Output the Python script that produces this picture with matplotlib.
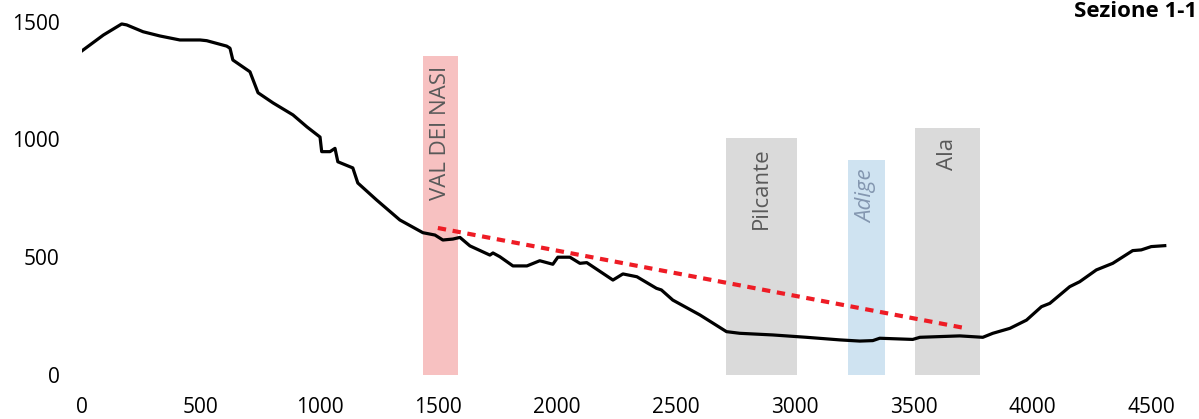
import matplotlib.pyplot as plt

plt.rcParams['font.family'] = ['Open Sans', 'DejaVu Sans']

# profile of section (distance m, elevation m)
dist = [0, 90, 167, 188, 257, 328, 412, 497, 525, 609, 623, 635, 707, 720,
        741, 804, 888, 947, 1002, 1009, 1044, 1065, 1077, 1140, 1161, 1240,
        1338, 1435, 1486, 1519, 1561, 1591, 1633, 1717, 1730, 1759, 1814,
        1873, 1927, 1982, 2003, 2054, 2096, 2125, 2235, 2277, 2336, 2418,
        2439, 2487, 2601, 2713, 2769, 2908, 3050, 3190, 3274, 3329, 3358,
        3497, 3527, 3695, 3792, 3834, 3906, 3976, 4039, 4074, 4158, 4200,
        4270, 4339, 4423, 4459, 4501, 4558]
elev = [1376, 1443, 1490, 1486, 1457, 1439, 1422, 1422, 1419, 1396, 1387,
        1337, 1287, 1253, 1198, 1155, 1104, 1053, 1010, 948, 948, 962, 905,
        879, 815, 743, 658, 604, 594, 573, 577, 584, 548, 509, 518, 502, 463,
        463, 485, 470, 500, 500, 474, 477, 403, 429, 417, 368, 361, 318, 255,
        184, 177, 170, 160, 149, 144, 146, 156, 151, 160, 166, 160, 177, 198,
        233, 290, 304, 375, 396, 446, 474, 528, 531, 545, 549]

# highlighted zones
zone_names = ['VAL DEI NASI', 'Pilcante', 'Adige', 'Ala']
zone_start = [1434, 2713, 3224, 3506]
zone_end = [1581, 3010, 3380, 3779]
zone_top = [1354, 1006, 913, 1048]
zone_colors = ['#f7c1c1', '#dadada', '#cfe3f1', '#dadada']
zone_text_colors = ['#595959', '#595959', '#8497b0', '#595959']
zone_italic = [False, False, True, False]

# dashed trend line
trend_x = [1498, 3723]
trend_y = [624, 198]

xticks = [0, 500, 1000, 1500, 2000, 2500, 3000, 3500, 4000, 4500]
yticks = [0, 500, 1000, 1500]

fig = plt.figure(figsize=(11.99, 4.19), dpi=100)
ax = fig.add_axes([82 / 1199, 44 / 419, 1116.5 / 1199, 1590 * 0.2356 / 419])

for name, x0, x1, top, col, tcol, it in zip(zone_names, zone_start, zone_end,
                                             zone_top, zone_colors,
                                             zone_text_colors, zone_italic):
    ax.fill_between([x0, x1], 0, top, color=col, lw=0, zorder=1)
    ax.annotate(name, xy=((x0 + x1) / 2, top), xytext=(0, -7),
                textcoords='offset points', rotation=90, ha='center',
                va='top', fontsize=16, color=tcol,
                style='italic' if it else 'normal', zorder=2)

ax.plot(dist, elev, color='black', lw=2.3, zorder=3, solid_joinstyle='round')
ax.plot(trend_x, trend_y, color='#ee1c25', lw=3, linestyle=(0, (2, 1.6)),
        zorder=4)

ax.set_xlim(0, 4700)
ax.set_ylim(0, 1590)
ax.set_xticks(xticks)
ax.set_yticks(yticks)
ax.tick_params(length=0, labelsize=15, colors='#000000')
ax.tick_params(axis='x', pad=16)
ax.tick_params(axis='y', pad=16)
for s in ax.spines.values():
    s.set_visible(False)

fig.text(1197 / 1199, 1 - 1 / 419, 'Sezione 1-1', fontsize=16,
         fontweight='bold', ha='right', va='top')

fig.savefig('out.png', dpi=100)
